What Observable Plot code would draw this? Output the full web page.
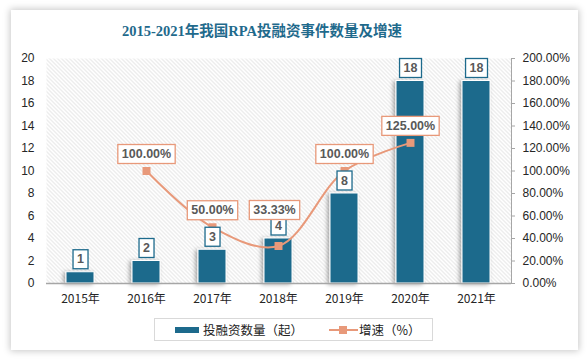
<!DOCTYPE html>
<html><head><meta charset="utf-8">
<script src="https://cdn.jsdelivr.net/npm/d3@7"></script>
<script src="https://cdn.jsdelivr.net/npm/@observablehq/plot@0.6"></script>
<style>
body{margin:0;width:587px;height:361px;background:#fff;position:relative;overflow:hidden;font-family:"Liberation Sans","Noto Sans CJK SC",sans-serif;}
#card{position:absolute;left:11px;top:10px;width:567px;height:340px;background:#fff;box-shadow:0 0 7px 1px rgba(0,0,0,0.22);}
#title{position:absolute;left:0;top:21px;width:524px;text-align:center;font-family:"Liberation Serif","Noto Sans CJK SC",serif;font-weight:bold;font-size:14.5px;color:#1f6a8c;line-height:20px;}
#chart{position:absolute;left:0;top:45px;}
#legend{position:absolute;left:154px;top:318px;width:279px;height:23px;border:1px solid #d9d9d9;box-sizing:border-box;font-family:"Noto Sans CJK SC",sans-serif;font-size:12.5px;color:#222;}
.li{position:absolute;top:3px;line-height:16px;}
</style></head>
<body>
<div id="card"></div>
<div id="title">2015-2021年我国RPA投融资事件数量及增速</div>
<div id="chart"></div>
<div id="legend">
  <svg style="position:absolute;left:20px;top:8px" width="25" height="7"><rect x="0" y="0" width="24" height="6" fill="#1d6a8c"/></svg>
  <div class="li" style="left:48px">投融资数量（起）</div>
  <svg style="position:absolute;left:173px;top:5px" width="32" height="12"><line x1="1" y1="6" x2="30" y2="6" stroke="#e8997a" stroke-width="2"/><rect x="11" y="2" width="8" height="8" fill="#e8997a"/></svg>
  <div class="li" style="left:204px">增速（%）</div>
</div>
<script>
const years = ["2015年","2016年","2017年","2018年","2019年","2020年","2021年"];
const counts = [1, 2, 3, 4, 8, 18, 18];
const growthYears = ["2016年","2017年","2018年","2019年","2020年"];
const growth = [100, 50, 33.33, 100, 125];
const yTicks = [0,2,4,6,8,10,12,14,16,18,20];
const rightTickLabels = ["0.00%","20.00%","40.00%","60.00%","80.00%","100.00%","120.00%","140.00%","160.00%","180.00%","200.00%"];

const barData = years.map((y,i)=>({year:y, n:counts[i]}));
const lineData = growthYears.map((y,i)=>({year:y, g:growth[i], yv:growth[i]/10}));
const lineMain = lineData.filter(d=>d.year!=="2018年");
const lineShift = lineData.filter(d=>d.year==="2018年");

const BAR = "#1d6a8c", LINE = "#e8997a", LAB = "#595959";
const plot = Plot.plot({
  width:587, height:270,
  marginLeft:46, marginRight:76, marginTop:13, marginBottom:32,
  style:{fontFamily:"Liberation Sans, Noto Sans CJK SC, sans-serif", fontSize:"12px", color:"#262626", background:"transparent"},
  x:{domain:years, paddingInner:0.57, paddingOuter:0.285, label:null},
  y:{domain:[0,20], label:null},
  marks:[
    Plot.frame({fill:"url(#hatch)", stroke:"none"}),
    Plot.axisY({ticks:yTicks, tickSize:0, tickPadding:12, label:null, fontSize:12}),
    Plot.axisY({anchor:"right", ticks:yTicks, tickSize:3, tickPadding:8, stroke:"#a6a6a6",
      tickFormat:(d)=>rightTickLabels[yTicks.indexOf(d)], label:null, fontSize:12}),
    Plot.axisX({tickSize:0, tickPadding:11, label:null, fontFamily:"Noto Sans CJK SC, sans-serif", fontSize:12}),
    Plot.barY(barData, {x:"year", y:"n", fill:BAR, stroke:"#fff", strokeWidth:1, className:"bars"}),
    Plot.ruleY([0], {stroke:"#a6a6a6", strokeWidth:1.5}),
    Plot.frame({anchor:"right", stroke:"#a6a6a6"}),
    Plot.line(lineData, {x:"year", y:"yv", stroke:LINE, strokeWidth:2, curve:"catmull-rom"}),
    Plot.dot(lineData, {x:"year", y:"yv", symbol:"square", fill:LINE, r:4.5}),
    Plot.text(barData, {x:"year", y:"n", text:d=>String(d.n), dy:-13, fill:LAB, fontWeight:"bold", fontSize:12.5, className:"barlab"}),
    Plot.text(lineMain, {x:"year", y:"yv", text:d=>d.g.toFixed(2)+"%", dy:-17, fill:LAB, fontWeight:"bold", fontSize:12.5, className:"linelab"}),
    Plot.text(lineShift, {x:"year", y:"yv", text:d=>d.g.toFixed(2)+"%", dy:-36, dx:-4, fill:LAB, fontWeight:"bold", fontSize:12.5, className:"linelab"})
  ]
});
document.getElementById("chart").appendChild(plot);
const svg = d3.select(plot);
const defs = svg.insert("defs", ":first-child");
const pat = defs.append("pattern").attr("id","hatch").attr("patternUnits","userSpaceOnUse").attr("width",4).attr("height",4);
pat.append("path").attr("d","M-1,-1L5,5M-1,3L1,5M3,-1L5,1").attr("stroke","#d2d2d2").attr("stroke-width",0.8);
const f = defs.append("filter").attr("id","sh").attr("x","-30%").attr("y","-10%").attr("width","160%").attr("height","120%");
f.append("feDropShadow").attr("dx",-2).attr("dy",1).attr("stdDeviation",2).attr("flood-color","#000").attr("flood-opacity",0.35);
svg.select(".bars").attr("filter","url(#sh)");
function boxes(cls, stroke){
  plot.querySelectorAll("."+cls+" text").forEach(t=>{
    const b = t.getBBox();
    const r = document.createElementNS("http://www.w3.org/2000/svg","rect");
    r.setAttribute("x", b.x-4); r.setAttribute("y", b.y-2.5);
    r.setAttribute("width", b.width+8); r.setAttribute("height", b.height+5);
    r.setAttribute("fill","#fff"); r.setAttribute("stroke",stroke); r.setAttribute("stroke-width",1.3);
    if (t.getAttribute("transform")) r.setAttribute("transform", t.getAttribute("transform"));
    t.parentNode.insertBefore(r, t);
  });
}
boxes("barlab", BAR);
boxes("linelab", LINE);
</script>
</body></html>
